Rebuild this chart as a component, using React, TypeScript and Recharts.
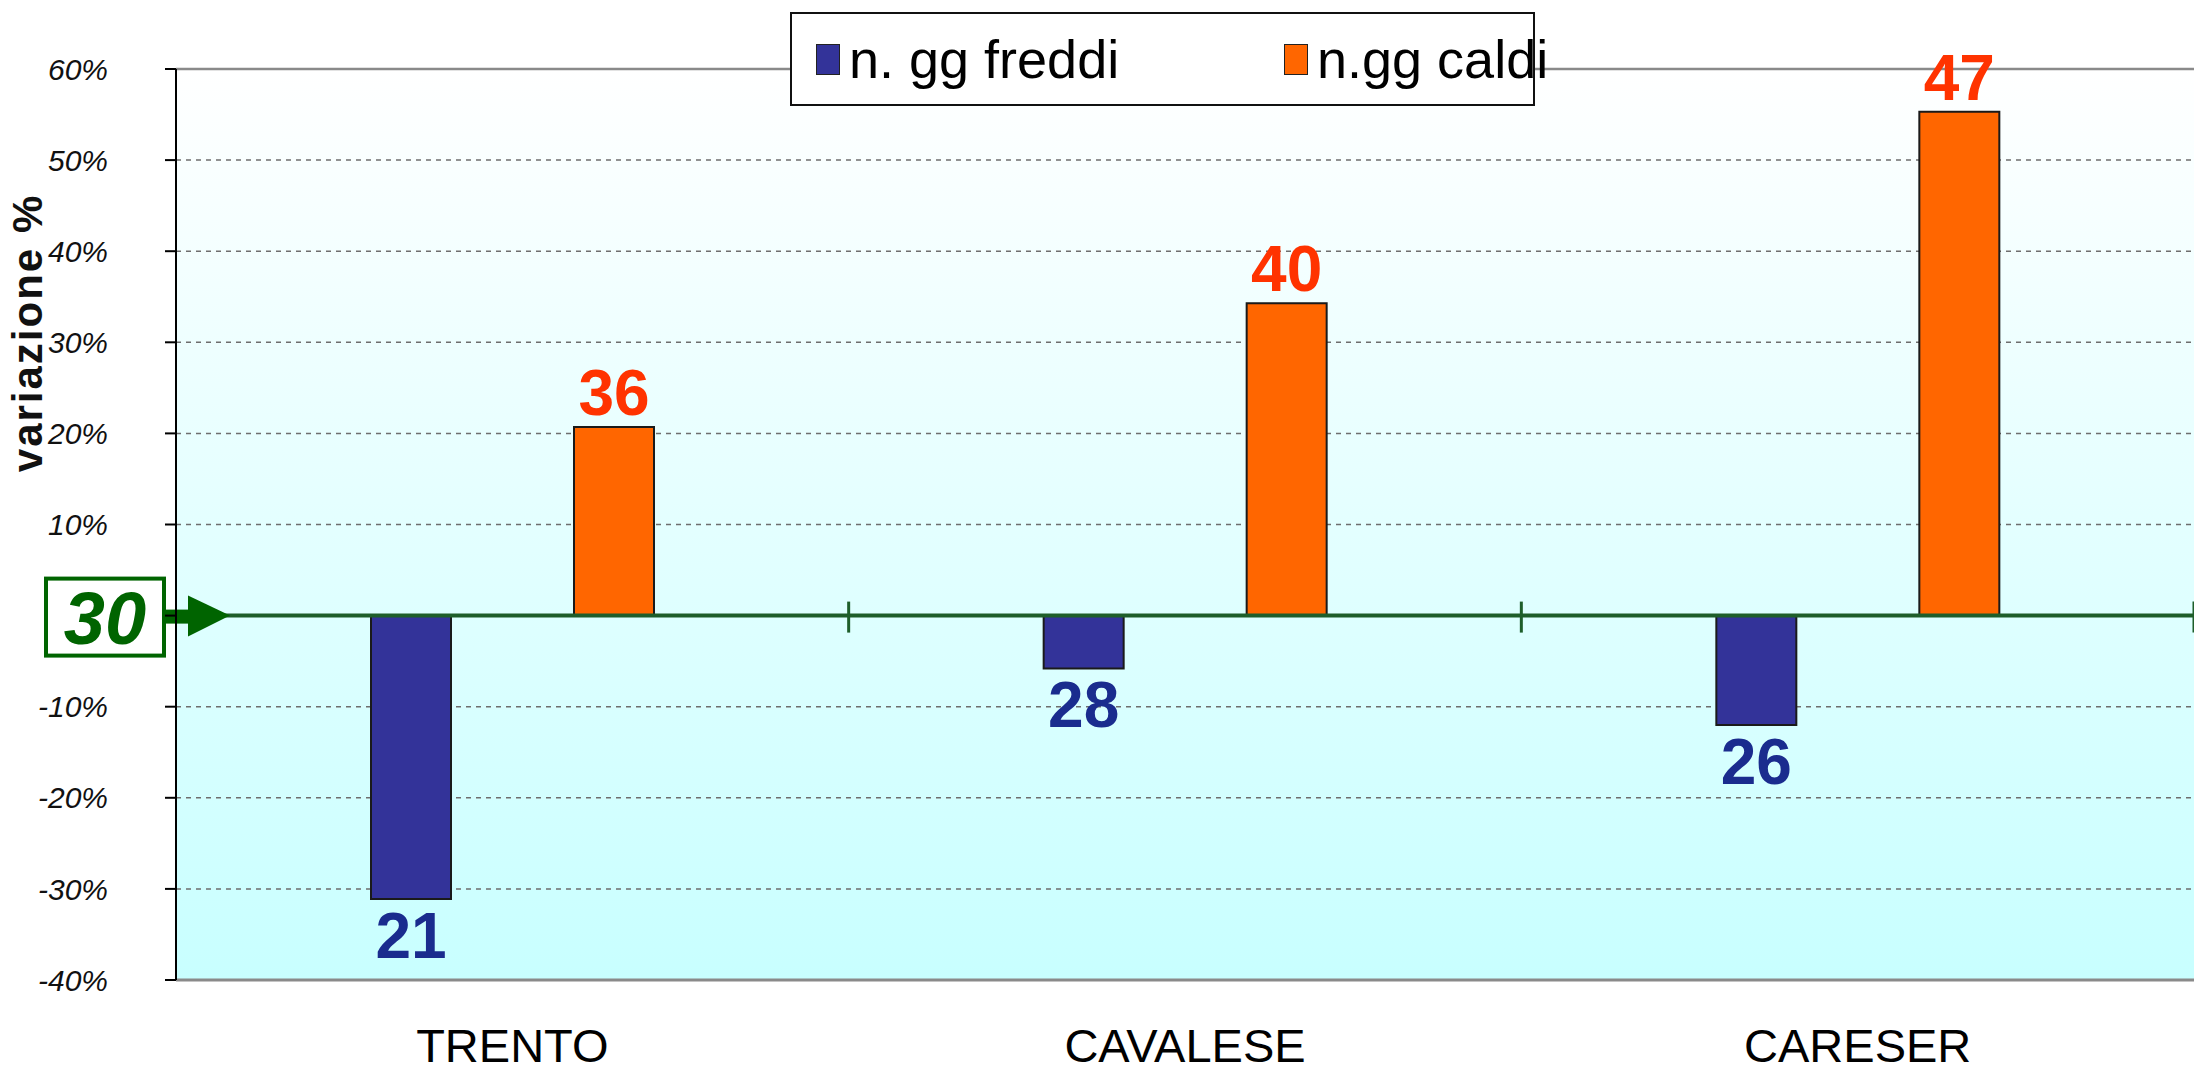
import React from "react";
import { BarChart, Bar, CartesianGrid, XAxis, YAxis, ReferenceLine, LabelList } from "recharts";

const categories = ["TRENTO", "CAVALESE", "CARESER"];
const freddiValues = [-31.1, -5.8, -12.0];
const caldiValues = [20.7, 34.3, 55.3];
const freddiLabels = [21, 28, 26];
const caldiLabels = [36, 40, 47];
const yTicks = [-40, -30, -20, -10, 0, 10, 20, 30, 40, 50, 60];
const baselineDays = 30;

const data = categories.map((name, i) => ({
  name,
  freddi: freddiValues[i],
  caldi: caldiValues[i],
  freddiLabel: freddiLabels[i],
  caldiLabel: caldiLabels[i],
}));

const FONT = "'Liberation Sans', Arial, sans-serif";
const GREEN = "#006400";

function BelowLabel(props: any) {
  const { x, y, width, height, value } = props;
  const bottom = Math.max(y, y + height);
  return (
    <text x={x + width / 2} y={bottom + 13 + 46} textAnchor="middle" fontFamily={FONT} fontWeight="bold" fontSize={64} fill="#1A2C8E">
      {value}
    </text>
  );
}

function AboveLabel(props: any) {
  const { x, y, width, height, value } = props;
  const top = Math.min(y, y + height);
  return (
    <text x={x + width / 2} y={top - 12} textAnchor="middle" fontFamily={FONT} fontWeight="bold" fontSize={64} fill="#FF3300">
      {value}
    </text>
  );
}

// box "30" with arrow pointing at the zero line, plus category ticks on the line
function ZeroMarker(props: any) {
  const { x, y, width } = props.viewBox;
  const band = width / categories.length;
  return (
    <g>
      {categories.map((c, i) => (
        <line key={c} x1={x + band * (i + 1)} x2={x + band * (i + 1)} y1={y - 14} y2={y + 17} stroke="#1E5E2A" strokeWidth={3} />
      ))}
      <rect x={x - 130} y={y - 37} width={118} height={77} fill="#fff" stroke={GREEN} strokeWidth={4} />
      <text x={x - 71} y={y + 28} textAnchor="middle" fontFamily={FONT} fontStyle="italic" fontWeight="bold" fontSize={74} fill={GREEN}>
        {baselineDays}
      </text>
      <rect x={x - 12} y={y - 6} width={28} height={14} fill={GREEN} />
      <polygon points={`${x + 12},${y - 20} ${x + 54},${y} ${x + 12},${y + 21}`} fill={GREEN} />
    </g>
  );
}

function YTitle() {
  return (
    <text transform="translate(42,333) rotate(-90)" textAnchor="middle" fontFamily={FONT} fontWeight="bold" fontSize={42} letterSpacing={2} fill="#111">
      variazione %
    </text>
  );
}

function LegendBox() {
  const item = (color: string, label: string, left: number) => (
    <div style={{ position: "absolute", left, top: 0, height: "100%", display: "flex", alignItems: "center", whiteSpace: "nowrap" }}>
      <div style={{ width: 22, height: 29, background: color, border: "1.5px solid #222", marginRight: 9, flexShrink: 0 }} />
      <span style={{ fontFamily: FONT, fontSize: 54, color: "#000", lineHeight: 1 }}>{label}</span>
    </div>
  );
  return (
    <div style={{ position: "absolute", left: 790, top: 12, width: 745, height: 94, boxSizing: "border-box", border: "2px solid #111", background: "#fff" }}>
      {item("#333399", "n. gg freddi", 24)}
      {item("#FF6600", "n.gg caldi", 492)}
    </div>
  );
}

export default function App() {
  return (
    <div style={{ position: "absolute", left: 0, top: 0, width: 2194, height: 1075, background: "#fff" }}>
      <BarChart width={2194} height={1075} data={data} margin={{ top: 69, right: 0, bottom: 0, left: 0 }} barSize={80} barGap={123}>
        <defs>
          <linearGradient id="bgGrad" x1="0" y1="0" x2="0" y2="1">
            <stop offset="0%" stopColor="#FFFFFF" />
            <stop offset="100%" stopColor="#C8FFFF" />
          </linearGradient>
        </defs>
        <CartesianGrid vertical={false} fill="url(#bgGrad)" stroke="#6e6e6e" strokeDasharray="5 5" strokeWidth={1.5} />
        <XAxis
          dataKey="name"
          height={95}
          axisLine={{ stroke: "#8a8a8a", strokeWidth: 3 }}
          tickLine={false}
          tickSize={0}
          tickMargin={49}
          tick={{ fontFamily: FONT, fontSize: 47, fill: "#000" }}
        />
        <YAxis
          width={176}
          domain={[-40, 60]}
          ticks={yTicks}
          interval={0}
          tickFormatter={(v: number) => (v === 0 ? "" : `${v}%`)}
          axisLine={{ stroke: "#000", strokeWidth: 2 }}
          tickLine={{ stroke: "#000", strokeWidth: 2 }}
          tickSize={11}
          tickMargin={57}
          tick={{ fontFamily: FONT, fontSize: 30, fontStyle: "italic", fill: "#111" }}
          label={YTitle}
        />
        <ReferenceLine y={60} stroke="#8a8a8a" strokeWidth={2.5} />
        <Bar dataKey="freddi" name="n. gg freddi" fill="#333399" stroke="#1a1a1a" strokeWidth={2} isAnimationActive={false}>
          <LabelList dataKey="freddiLabel" content={BelowLabel} />
        </Bar>
        <Bar dataKey="caldi" name="n.gg caldi" fill="#FF6600" stroke="#1a1a1a" strokeWidth={2} isAnimationActive={false}>
          <LabelList dataKey="caldiLabel" content={AboveLabel} />
        </Bar>
        <ReferenceLine y={0} stroke="#1E5E2A" strokeWidth={4} label={ZeroMarker} />
      </BarChart>
      <LegendBox />
    </div>
  );
}
